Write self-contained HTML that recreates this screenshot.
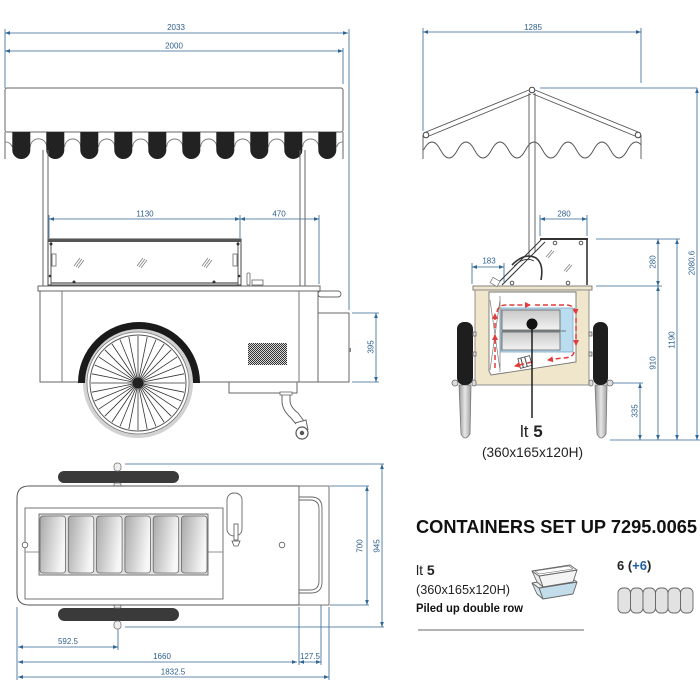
<!DOCTYPE html>
<html><head><meta charset="utf-8"><style>
html,body{margin:0;padding:0;background:#fff;}
svg{display:block;font-family:"Liberation Sans",sans-serif;}
</style></head><body>
<svg width="700" height="700" viewBox="0 0 700 700" xmlns="http://www.w3.org/2000/svg">
<defs>
<marker id="a" viewBox="0 0 6 6" refX="6" refY="3" markerWidth="5" markerHeight="5" orient="auto-start-reverse" markerUnits="userSpaceOnUse"><path d="M0,0.8 L6,3 L0,5.2 z" fill="#2f6595"/></marker>
<marker id="r" viewBox="0 0 6 6" refX="5" refY="3" markerWidth="6" markerHeight="6" orient="auto" markerUnits="userSpaceOnUse"><path d="M0,0 L6,3 L0,6 z" fill="#e23b3b"/></marker>
<pattern id="vent" width="2" height="2" patternUnits="userSpaceOnUse"><rect width="2" height="2" fill="#d8d8d8"/><rect width="1" height="1" fill="#333"/><rect x="1" y="1" width="1" height="1" fill="#333"/></pattern>
<linearGradient id="cg" x1="0" y1="0" x2="1" y2="0.3"><stop offset="0" stop-color="#a9a9a9"/><stop offset="1" stop-color="#f7f7f7"/></linearGradient>
<linearGradient id="leg" x1="0" y1="0" x2="1" y2="0"><stop offset="0" stop-color="#9a9a9a"/><stop offset="0.5" stop-color="#e6e6e6"/><stop offset="1" stop-color="#a0a0a0"/></linearGradient>
<linearGradient id="bx" x1="0" y1="0" x2="0" y2="1"><stop offset="0" stop-color="#c9c9c9"/><stop offset="1" stop-color="#f2f2f2"/></linearGradient>
<clipPath id="wc"><rect x="423" y="130" width="218" height="40"/></clipPath>
</defs>

<!-- ============ SIDE VIEW (top-left) ============ -->
<g stroke="#2f6595" stroke-width="0.8" fill="none">
  <line x1="5" y1="33" x2="348" y2="33" marker-start="url(#a)" marker-end="url(#a)"/>
  <line x1="5" y1="51" x2="343" y2="51" marker-start="url(#a)" marker-end="url(#a)"/>
  <line x1="5" y1="29" x2="5" y2="88"/>
  <line x1="349" y1="29" x2="349" y2="310"/>
  <line x1="343" y1="48" x2="343" y2="84"/>
  <line x1="49" y1="219" x2="240" y2="219" marker-start="url(#a)" marker-end="url(#a)"/>
  <line x1="240" y1="219" x2="319" y2="219" marker-start="url(#a)" marker-end="url(#a)"/>
  <line x1="49" y1="215" x2="49" y2="238"/>
  <line x1="240" y1="215" x2="240" y2="238"/>
  <line x1="319" y1="215" x2="319" y2="284"/>
  <line x1="376" y1="313" x2="376" y2="382" marker-start="url(#a)" marker-end="url(#a)"/>
  <line x1="352" y1="313" x2="379" y2="313"/>
  <line x1="352" y1="382" x2="379" y2="382"/>
</g>
<g fill="#2f5f8c" font-size="8" text-anchor="middle">
  <text x="176" y="30">2033</text>
  <text x="174" y="48.5">2000</text>
  <text x="145" y="216.5">1130</text>
  <text x="279" y="216.5">470</text>
  <text transform="translate(371,347) rotate(-90)" dominant-baseline="central">395</text>
</g>

<!-- awning -->
<rect x="5" y="88" width="338" height="44" rx="2" fill="#fff" stroke="#666" stroke-width="1"/>
<line x1="5" y1="132" x2="5" y2="159" stroke="#666"/>
<line x1="343" y1="132" x2="343" y2="159" stroke="#666"/>
<path d="M5,142 A7,7 0 0 1 12.3,147 M30.3,147 A8.2,8.2 0 0 1 46.7,147 M64.7,147 A8,8 0 0 1 80.7,147 M98.7,147 A8,8 0 0 1 114.7,147 M132.7,147 A8,8 0 0 1 148.7,147 M166.7,147 A8,8 0 0 1 182.7,147 M200.7,147 A8,8 0 0 1 216.7,147 M234.7,147 A8,8 0 0 1 250.7,147 M268.7,147 A8,8 0 0 1 284.7,147 M302.7,147 A8,8 0 0 1 318.7,147 M336.7,147 A6,6 0 0 1 343,142" fill="none" stroke="#777" stroke-width="0.9"/>
<g fill="#222">
  <path d="M12.3,132 h18 v18 a9,9 0 0 1 -18,0 z"/>
  <path d="M46.3,132 h18 v18 a9,9 0 0 1 -18,0 z"/>
  <path d="M80.3,132 h18 v18 a9,9 0 0 1 -18,0 z"/>
  <path d="M114.3,132 h18 v18 a9,9 0 0 1 -18,0 z"/>
  <path d="M148.3,132 h18 v18 a9,9 0 0 1 -18,0 z"/>
  <path d="M182.3,132 h18 v18 a9,9 0 0 1 -18,0 z"/>
  <path d="M216.3,132 h18 v18 a9,9 0 0 1 -18,0 z"/>
  <path d="M250.3,132 h18 v18 a9,9 0 0 1 -18,0 z"/>
  <path d="M284.3,132 h18 v18 a9,9 0 0 1 -18,0 z"/>
  <path d="M318.3,132 h18 v18 a9,9 0 0 1 -18,0 z"/>
</g>
<!-- posts -->
<g stroke="#666" stroke-width="1">
  <line x1="43" y1="150" x2="43" y2="286"/><line x1="48" y1="150" x2="48" y2="286"/>
  <line x1="300" y1="150" x2="300" y2="286"/><line x1="305" y1="150" x2="305" y2="286"/>
</g>
<!-- glass display -->
<rect x="48" y="239" width="193" height="46" fill="#fff" stroke="#444" stroke-width="1"/>
<rect x="48" y="239" width="193" height="3" fill="#555"/>
<line x1="51" y1="283" x2="238" y2="283" stroke="#555" stroke-width="1.2"/>
<line x1="51" y1="242" x2="51" y2="285" stroke="#555"/>
<line x1="238" y1="242" x2="238" y2="285" stroke="#555"/>
<rect x="52" y="254" width="4" height="12" fill="#fff" stroke="#666" stroke-width="0.8"/>
<rect x="233" y="254" width="4" height="12" fill="#fff" stroke="#666" stroke-width="0.8"/>
<g fill="#333"><circle cx="51" cy="244" r="1.5"/><circle cx="238" cy="244" r="1.5"/><circle cx="50" cy="276" r="1.3"/><circle cx="239" cy="276" r="1.3"/><circle cx="74" cy="282" r="1.5"/><circle cx="214" cy="282" r="1.5"/></g>
<g stroke="#777" stroke-width="0.7"><path d="M74,266 l6,-8 M76,267 l6,-8 M78,268 l6,-8 M137,266 l6,-8 M139,267 l6,-8 M141,268 l6,-8 M202,266 l6,-8 M204,267 l6,-8 M206,268 l6,-8"/></g>
<!-- faucet -->
<rect x="247" y="273" width="3" height="12" rx="1" fill="#fff" stroke="#666" stroke-width="0.8"/>
<rect x="252" y="280" width="11" height="5" fill="#fff" stroke="#666" stroke-width="0.8"/>
<!-- counter -->
<rect x="38" y="286" width="282" height="5" fill="#fff" stroke="#666" stroke-width="1"/>
<rect x="318" y="291" width="23" height="6" rx="3" fill="#fff" stroke="#666" stroke-width="0.9"/>
<!-- body -->
<rect x="40" y="291" width="278" height="91" fill="#fff" stroke="#666" stroke-width="1"/>
<line x1="62" y1="291" x2="62" y2="382" stroke="#777"/>
<line x1="299" y1="291" x2="299" y2="382" stroke="#777"/>
<rect x="318" y="313" width="31" height="69" fill="#fff" stroke="#666" stroke-width="1"/>
<rect x="349" y="348" width="2" height="4" fill="#888"/>
<rect x="248" y="343" width="39" height="22" fill="url(#vent)"/>
<rect x="229" y="382" width="68" height="11" fill="#fff" stroke="#666" stroke-width="1"/>
<!-- caster -->
<path d="M282,393 L282,401 Q282,410 291,418 L296,424" fill="none" stroke="#666" stroke-width="1"/>
<path d="M290,393 L290,400 Q290,407 298,413 L304,421" fill="none" stroke="#666" stroke-width="1"/>
<rect x="280" y="392" width="12" height="3" fill="#fff" stroke="#666" stroke-width="0.8"/>
<path d="M295,423 L306,420 L308,430" fill="none" stroke="#666" stroke-width="1"/>
<circle cx="302" cy="433" r="6" fill="#fff" stroke="#555" stroke-width="1.2"/>
<circle cx="302" cy="433" r="2.2" fill="#555"/>
<!-- wheel -->
<circle cx="138" cy="383" r="55" fill="#d2d2d2"/>
<circle cx="138" cy="383" r="51" fill="#fff" stroke="#777" stroke-width="0.8"/>
<circle cx="138" cy="383" r="48" fill="#fff" stroke="#555" stroke-width="1"/>
<path stroke="#333" stroke-width="0.8" fill="none" d="M91,383 L185,383 M91.9,373.8 L184.1,392.2 M94.6,365 L181.4,401 M98.9,356.9 L177.1,409.1 M104.8,349.8 L171.2,416.2 M111.9,343.9 L164.1,422.1 M120,339.6 L156,426.4 M128.8,336.9 L147.2,429.1 M138,336 L138,430 M147.2,336.9 L128.8,429.1 M156,339.6 L120,426.4 M164.1,343.9 L111.9,422.1 M171.2,349.8 L104.8,416.2 M177.1,356.9 L98.9,409.1 M181.4,365 L94.6,401 M184.1,373.8 L91.9,392.2"/>
<circle cx="138" cy="383" r="5.5" fill="#222"/>
<path d="M81.5,383 A57.5,57.5 0 0 1 196.5,383" fill="none" stroke="#1a1a1a" stroke-width="7"/>

<!-- ============ FRONT VIEW (top-right) ============ -->
<g stroke="#2f6595" stroke-width="0.8" fill="none">
  <line x1="423" y1="32" x2="641" y2="32" marker-start="url(#a)" marker-end="url(#a)"/>
  <line x1="423" y1="28" x2="423" y2="131"/>
  <line x1="641" y1="28" x2="641" y2="83"/>
  <line x1="540" y1="88" x2="697" y2="88"/>
  <line x1="697" y1="88" x2="697" y2="440" marker-start="url(#a)" marker-end="url(#a)"/>
  <line x1="540" y1="219" x2="587" y2="219" marker-start="url(#a)" marker-end="url(#a)"/>
  <line x1="540" y1="215" x2="540" y2="236"/>
  <line x1="587" y1="215" x2="587" y2="236"/>
  <line x1="472" y1="267" x2="504" y2="267" marker-start="url(#a)" marker-end="url(#a)"/>
  <line x1="472" y1="263" x2="472" y2="284"/>
  <line x1="504" y1="263" x2="504" y2="282"/>
  <line x1="596" y1="239" x2="680" y2="239"/>
  <line x1="596" y1="286" x2="662" y2="286"/>
  <line x1="600" y1="383" x2="643" y2="383"/>
  <line x1="610" y1="440" x2="700" y2="440"/>
  <line x1="658" y1="239" x2="658" y2="286" marker-start="url(#a)" marker-end="url(#a)"/>
  <line x1="658" y1="286" x2="658" y2="440" marker-start="url(#a)" marker-end="url(#a)"/>
  <line x1="677" y1="239" x2="677" y2="440" marker-start="url(#a)" marker-end="url(#a)"/>
  <line x1="640" y1="383" x2="640" y2="440" marker-start="url(#a)" marker-end="url(#a)"/>
</g>
<g fill="#2f5f8c" font-size="8" text-anchor="middle">
  <text x="533" y="30">1285</text>
  <text x="564" y="216.5">280</text>
  <text x="489" y="263.5">183</text>
  <text transform="translate(653,262) rotate(-90)" dominant-baseline="central">280</text>
  <text transform="translate(653,363) rotate(-90)" dominant-baseline="central">910</text>
  <text transform="translate(672,340) rotate(-90)" dominant-baseline="central">1190</text>
  <text transform="translate(692,263) rotate(-90)" dominant-baseline="central">2080.6</text>
  <text transform="translate(635,411) rotate(-90)" dominant-baseline="central">335</text>
</g>
<!-- roof -->
<g stroke="#555" stroke-width="0.9" fill="none">
  <line x1="529" y1="90" x2="426" y2="132"/><line x1="531" y1="94" x2="429" y2="136"/>
  <line x1="535" y1="90" x2="638" y2="132"/><line x1="533" y1="94" x2="635" y2="136"/>
  <line x1="423" y1="135" x2="423" y2="159"/><line x1="641" y1="135" x2="641" y2="159"/>
  <path clip-path="url(#wc)" d="M423.5,150 Q432,134 440.5,150 T457.5,150 T474.5,150 T491.5,150 T508.5,150 T525.5,150 T542.5,150 T559.5,150 T576.5,150 T593.5,150 T610.5,150 T627.5,150 T644.5,150"/>
  <line x1="529" y1="93" x2="529" y2="258"/><line x1="535" y1="93" x2="535" y2="252"/>
</g>
<g fill="#fff" stroke="#444" stroke-width="1"><circle cx="532" cy="90" r="2.8"/><circle cx="426" cy="135" r="2.8"/><circle cx="638" cy="135" r="2.8"/></g>
<!-- canopy glass -->
<g stroke="#333" fill="none">
  <line x1="540" y1="239" x2="588" y2="239" stroke-width="2"/>
  <line x1="587" y1="239" x2="587" y2="285" stroke-width="1.6"/>
  <line x1="541" y1="240" x2="497" y2="284" stroke-width="1"/>
  <line x1="545" y1="242" x2="502" y2="285" stroke-width="1"/>
  <path d="M512,265 Q525,252 536,258 Q544,264 541,280" stroke-width="1.6"/>
  <path d="M514,266 Q525,256 534,261" stroke-width="0.8"/>
</g>
<g stroke="#777" stroke-width="0.7"><path d="M546,257 l6,-7 M548,258 l6,-7 M564,271 l6,-7 M566,272 l6,-7"/></g>
<g fill="#fff" stroke="#444" stroke-width="0.9"><circle cx="555" cy="243" r="1.8"/><circle cx="581" cy="243" r="1.8"/><circle cx="512" cy="283" r="1.8"/><circle cx="568" cy="283" r="1.8"/></g>
<!-- body -->
<rect x="473" y="286" width="119" height="4" fill="#efe6cc" stroke="#777" stroke-width="0.9"/>
<rect x="475" y="290" width="114" height="95" fill="#efe6cc" stroke="#888" stroke-width="0.9"/>
<polygon points="489,292 576,292 576,362 491,375 489,371" fill="#fff" stroke="#777" stroke-width="0.9"/>
<g stroke="#777" stroke-width="0.7" fill="none">
  <path d="M490,300 L500,370 M500,300 L490,370 M500,296 L500,372"/>
  <rect x="491" y="279" width="8" height="6" transform="rotate(30 495 282)" fill="#fff"/>
</g>
<rect x="501" y="308" width="72" height="44" fill="#b9dcef" stroke="#7aa8c4" stroke-width="0.8"/>
<rect x="502" y="310" width="58" height="20" fill="url(#bx)" stroke="#666" stroke-width="0.8"/>
<rect x="502" y="332" width="58" height="18" fill="url(#bx)" stroke="#666" stroke-width="0.8"/>
<line x1="502" y1="331" x2="566" y2="331" stroke="#555" stroke-width="0.8"/>
<g transform="rotate(-15 525 362)"><rect x="519" y="357" width="12" height="10" fill="#fff" stroke="#444" stroke-width="0.8"/><line x1="522" y1="357" x2="522" y2="367" stroke="#444"/><line x1="526" y1="357" x2="526" y2="367" stroke="#444"/></g>
<!-- red arrows -->
<g stroke="#e23b3b" stroke-width="1.5" fill="none" stroke-dasharray="5 3">
  <path d="M497,312 Q498,305 506,305 L530,305" marker-end="url(#r)"/>
  <path d="M535,305 L566,305 Q575,305 576,314" marker-end="url(#r)"/>
  <path d="M576,318 L576,345" marker-end="url(#r)"/>
  <path d="M574,352 Q573,358 562,358 L548,360" marker-end="url(#r)"/>
  <path d="M532,362 L515,366" marker-end="url(#r)"/>
  <path d="M495,368 L495,335" marker-end="url(#r)"/>
  <path d="M495,328 L495,314" marker-end="url(#r)"/>
</g>
<circle cx="532" cy="324" r="5.5" fill="#111"/>
<line x1="532" y1="324" x2="532" y2="418" stroke="#111" stroke-width="1.4"/>
<!-- wheels -->
<path d="M459,385 L471,385 L470,434 Q465,442 461,434 Z" fill="url(#leg)" stroke="#777" stroke-width="0.8"/>
<path d="M595,385 L607,385 L606,434 Q601,442 597,434 Z" fill="url(#leg)" stroke="#777" stroke-width="0.8"/>
<rect x="457" y="322" width="16" height="63" rx="7" fill="#1e1e1e"/>
<rect x="593" y="322" width="15" height="63" rx="7" fill="#1e1e1e"/>
<g fill="#ddd" stroke="#666" stroke-width="0.8">
  <rect x="452" y="380" width="6" height="6" rx="3"/><rect x="472" y="380" width="4" height="6" rx="2"/>
  <rect x="589" y="380" width="4" height="6" rx="2"/><rect x="607" y="380" width="6" height="6" rx="3"/>
  <rect x="473" y="332" width="3" height="4"/><rect x="473" y="352" width="3" height="4"/>
  <rect x="589" y="332" width="3" height="4"/><rect x="589" y="352" width="3" height="4"/>
</g>
<text x="520" y="437" font-size="17" fill="#222">lt <tspan font-weight="bold">5</tspan></text>
<text x="482" y="457" font-size="14" fill="#222" textLength="101" lengthAdjust="spacingAndGlyphs">(360x165x120H)</text>

<!-- ============ TOP VIEW (bottom-left) ============ -->
<g stroke="#2f6595" stroke-width="0.8" fill="none">
  <line x1="125" y1="464" x2="384" y2="464"/>
  <line x1="125" y1="627" x2="384" y2="627"/>
  <line x1="382" y1="464" x2="382" y2="627" marker-start="url(#a)" marker-end="url(#a)"/>
  <line x1="330" y1="486" x2="369" y2="486"/>
  <line x1="330" y1="605" x2="369" y2="605"/>
  <line x1="367" y1="486" x2="367" y2="605" marker-start="url(#a)" marker-end="url(#a)"/>
  <line x1="17" y1="607" x2="17" y2="680"/>
  <line x1="118" y1="622" x2="118" y2="650"/>
  <line x1="299" y1="607" x2="299" y2="665"/>
  <line x1="321" y1="592" x2="321" y2="665"/>
  <line x1="329" y1="607" x2="329" y2="680"/>
  <line x1="18" y1="647" x2="118" y2="647" marker-start="url(#a)" marker-end="url(#a)"/>
  <line x1="18" y1="662" x2="297" y2="662" marker-start="url(#a)" marker-end="url(#a)"/>
  <line x1="299" y1="662" x2="321" y2="662" marker-start="url(#a)" marker-end="url(#a)"/>
  <line x1="18" y1="677" x2="329" y2="677" marker-start="url(#a)" marker-end="url(#a)"/>
</g>
<g fill="#2f5f8c" font-size="8" text-anchor="middle">
  <text transform="translate(360,546) rotate(-90)" dominant-baseline="central">700</text>
  <text transform="translate(377,546) rotate(-90)" dominant-baseline="central">945</text>
  <text x="68" y="644">592.5</text>
  <text x="162" y="659">1660</text>
  <text x="310" y="659">127.5</text>
  <text x="173" y="674.5">1832.5</text>
</g>
<!-- wheel bars -->
<rect x="58" y="471" width="121" height="12" rx="6" fill="#3a3a3a"/>
<rect x="58" y="608" width="121" height="13" rx="6.5" fill="#3a3a3a"/>
<g fill="#eee" stroke="#777" stroke-width="0.8">
  <rect x="114" y="463" width="7" height="8" rx="3"/><rect x="114" y="483" width="7" height="4" rx="1.5"/>
  <rect x="114" y="605" width="7" height="3" rx="1.5"/><rect x="114" y="621" width="7" height="8" rx="3"/>
</g>
<!-- body -->
<path d="M29,486 L299,486 L299,605 L29,605 Q17,605 17,593 L17,498 Q17,486 29,486 Z" fill="#fff" stroke="#555" stroke-width="1"/>
<rect x="299" y="486" width="30" height="119" fill="#fff" stroke="#666" stroke-width="0.9"/>
<path d="M299,497 L311,497 Q322,497 322,508 L322,582 Q322,593 311,593 L299,593" fill="none" stroke="#666" stroke-width="0.9"/>
<path d="M299,500 L310,500 Q319,500 319,509 L319,581 Q319,590 310,590 L299,590" fill="none" stroke="#666" stroke-width="0.9"/>
<rect x="25" y="508" width="198" height="91" fill="#fff" stroke="#666" stroke-width="0.9"/>
<line x1="25" y1="552" x2="39" y2="552" stroke="#777" stroke-width="0.8"/>
<line x1="208" y1="552" x2="223" y2="552" stroke="#777" stroke-width="0.8"/>
<rect x="39" y="514" width="169" height="61" fill="#e2e2e2" stroke="#666" stroke-width="0.9"/>
<g fill="url(#cg)" stroke="#666" stroke-width="0.8">
  <rect x="40" y="516" width="25.5" height="57" rx="3"/>
  <rect x="68.3" y="516" width="25.5" height="57" rx="3"/>
  <rect x="96.6" y="516" width="25.5" height="57" rx="3"/>
  <rect x="124.9" y="516" width="25.5" height="57" rx="3"/>
  <rect x="153.2" y="516" width="25.5" height="57" rx="3"/>
  <rect x="181.5" y="516" width="25.5" height="57" rx="3"/>
</g>
<g fill="#fff" stroke="#555" stroke-width="0.8"><circle cx="25" cy="545" r="2.8"/><circle cx="282" cy="545" r="2.8"/></g>
<rect x="227" y="493" width="15" height="43" rx="7" fill="#fff" stroke="#666" stroke-width="0.9"/>
<rect x="234" y="524" width="4" height="16" fill="#fff" stroke="#555" stroke-width="0.8"/>
<path d="M232,541 L240,541 L238,546 L234,546 Z" fill="#fff" stroke="#555" stroke-width="0.8"/>

<!-- ============ CONTAINERS (bottom-right) ============ -->
<text x="416" y="533" font-size="18" font-weight="bold" fill="#111" textLength="281" lengthAdjust="spacingAndGlyphs">CONTAINERS SET UP 7295.0065</text>
<text x="416" y="575" font-size="14" fill="#222">lt <tspan font-weight="bold">5</tspan></text>
<text x="416" y="594" font-size="13" fill="#222" textLength="94" lengthAdjust="spacingAndGlyphs">(360x165x120H)</text>
<text x="416" y="612" font-size="11.5" font-weight="bold" fill="#111" textLength="107" lengthAdjust="spacingAndGlyphs">Piled up double row</text>
<line x1="418" y1="630" x2="584" y2="630" stroke="#9a9a9a" stroke-width="1.6"/>
<text x="617" y="570" font-size="13" font-weight="bold" fill="#222">6 (<tspan fill="#1f5e9e">+6</tspan>)</text>
<!-- tray icon -->
<g stroke="#666" stroke-width="0.9" stroke-linejoin="round">
  <!-- lower tray -->
  <path d="M539,588 L577,582 L573,594 L543,599 Z" fill="#c3dcea"/>
  <path d="M532,583 L539,588 L543,599 L537,594 Z" fill="#d6e6ef"/>
  <path d="M532,583 L570,577 L577,582 L539,588 Z" fill="#f2f2f2"/>
  <!-- upper tray -->
  <path d="M539,576 L577,570 L573,582 L543,587 Z" fill="#f4f4f4"/>
  <path d="M532,571 L539,576 L543,587 L537,582 Z" fill="#ececec"/>
  <path d="M532,571 L570,565 L577,570 L539,576 Z" fill="#fff"/>
  <path d="M535,571 L569,566 L573,569 L539,574 Z" fill="none" stroke-width="0.6"/>
</g>
<g fill="#e2e2e2" stroke="#666" stroke-width="0.9">
  <rect x="618" y="588" width="12.5" height="25" rx="5"/>
  <rect x="630.5" y="588" width="12.5" height="25" rx="5"/>
  <rect x="643" y="588" width="12.5" height="25" rx="5"/>
  <rect x="655.5" y="588" width="12.5" height="25" rx="5"/>
  <rect x="668" y="588" width="12.5" height="25" rx="5"/>
  <rect x="680.5" y="588" width="12.5" height="25" rx="5"/>
</g>
</svg>
</body></html>
